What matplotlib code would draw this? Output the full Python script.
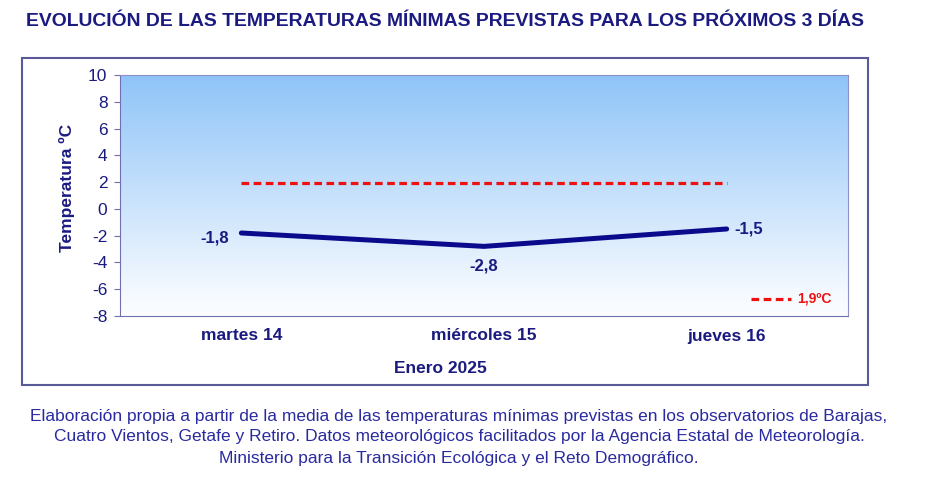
import matplotlib.pyplot as plt
import numpy as np
from matplotlib.colors import LinearSegmentedColormap
from matplotlib.patches import Rectangle

# data
dias = ['martes 14', 'miércoles 15', 'jueves 16']
t_min = [-1.8, -2.8, -1.5]
etiquetas = ['-1,8', '-2,8', '-1,5']
media = 1.9
media_txt = '1,9ºC'
y_ticks = list(range(-8, 11, 2))

navy = '#1a1a80'
txt_blue = '#2a2aa0'

plt.rcParams['font.family'] = ['Liberation Sans', 'DejaVu Sans']

fig = plt.figure(figsize=(9.27, 4.92), dpi=100)
W, H = 927, 492

# title
fig.text(26 / W, 1 - 21 / H, 'EVOLUCIÓN DE LAS TEMPERATURAS MÍNIMAS PREVISTAS PARA LOS PRÓXIMOS 3 DÍAS',
         fontsize=13.95, fontweight='bold', color=navy, va='center', ha='left')

# outer box
fig.patches.append(Rectangle((22 / W, 1 - 385 / H), 846 / W, 327 / H, transform=fig.transFigure,
                             fill=False, edgecolor='#5a5a9a', linewidth=1.5))

ax = fig.add_axes([120 / W, 1 - 316 / H, 728 / W, 241 / H])
x = np.arange(len(dias))
ax.set_xlim(-0.5, len(dias) - 0.5)
ax.set_ylim(-8, 10)

# gradient background
cmap = LinearSegmentedColormap.from_list('bg', [(0, '#fbfdff'), (0.08, '#f6faff'), (1, '#8fc4f8')])
grad = np.linspace(0, 1, 256).reshape(-1, 1)
ax.imshow(grad, aspect='auto', cmap=cmap, origin='lower', extent=[-0.5, 2.5, -8, 10], zorder=0)

dash = (0, (2.4, 1.4))
ax.plot(x, [media] * len(x), color='#ee1111', linestyle=dash, linewidth=2.3, zorder=2)
ax.plot(x, t_min, color='#0a0a8c', linewidth=3.6, solid_capstyle='round', zorder=3)

offs = [(-0.05, -0.4, 'right', 'center'), (0, -0.9, 'center', 'top'), (0.03, 0, 'left', 'center')]
for i, (dx, dy, ha, va) in enumerate(offs):
    ax.text(x[i] + dx, t_min[i] + dy, etiquetas[i], ha=ha, va=va, fontsize=12,
            fontweight='bold', color=navy)

# legend
ax.plot([2.1, 2.265], [-6.7, -6.7], color='#ee1111', linestyle=dash, linewidth=2.3,
        clip_on=False)
ax.text(2.29, -6.7, media_txt, color='#ee1111', fontsize=10, fontweight='bold', va='center')

ax.set_xticks(x)
ax.set_xticklabels(dias, fontsize=12.5, fontweight='bold', color=navy)
ax.set_yticks(y_ticks)
ax.set_yticklabels([str(v) for v in y_ticks], fontsize=12.5, color=navy)
ax.tick_params(axis='x', length=0, pad=9)
ax.tick_params(axis='y', length=4, color='#7070b0', pad=5)
for s in ['left', 'bottom']:
    ax.spines[s].set_color('#7070b0')
for s in ['top', 'right']:
    ax.spines[s].set_color('#9090c8')
ax.set_ylabel('Temperatura ºC', fontsize=12.5, fontweight='bold', color=navy)
ax.yaxis.set_label_coords(-0.062, 0.53)
ax.set_xlabel('Enero 2025', fontsize=12.5, fontweight='bold', color=navy)
ax.xaxis.set_label_coords(0.44, -0.185)

# footer
pie = ('Elaboración propia a partir de la media de las temperaturas mínimas previstas en los observatorios de Barajas,\n'
       'Cuatro Vientos, Getafe y Retiro. Datos meteorológicos facilitados por la Agencia Estatal de Meteorología.\n'
       'Ministerio para la Transición Ecológica y el Reto Demográfico.')
fig.text(459 / W, 1 - 437 / H, pie, ha='center', va='center', fontsize=12.5, color=txt_blue,
         linespacing=1.5)

fig.savefig('out.png', dpi=100)
